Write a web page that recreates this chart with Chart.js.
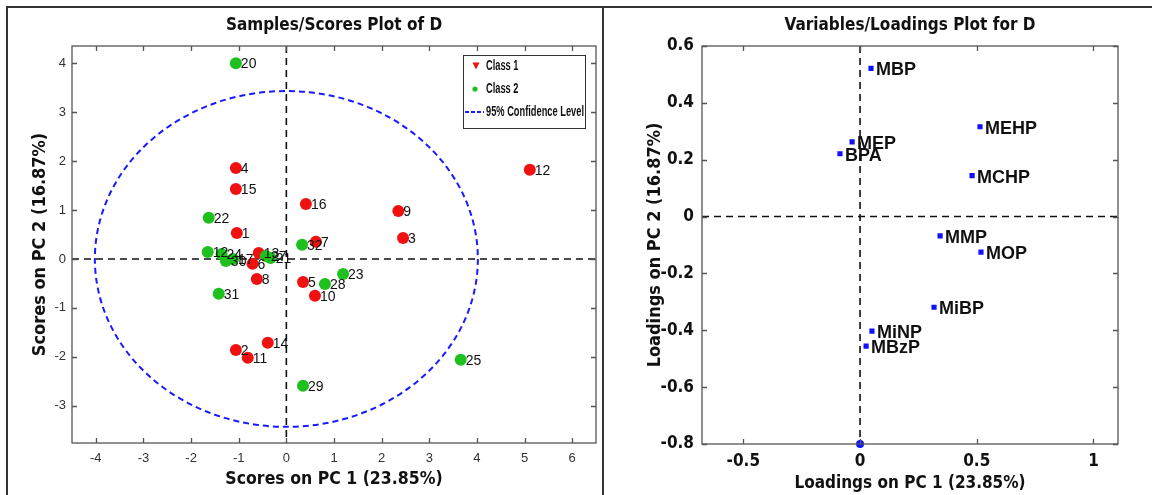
<!DOCTYPE html>
<html><head><meta charset="utf-8">
<script src="https://cdn.jsdelivr.net/npm/chart.js@4.4.0/dist/chart.umd.min.js"></script>
<style>
html,body{margin:0;padding:0;background:#fff;width:1152px;height:495px;overflow:hidden;}
#frame{position:absolute;left:6px;top:6px;width:1160px;height:500px;border-top:2px solid #333;border-left:2px solid #333;}
#sep{position:absolute;left:602px;top:6px;width:2px;height:500px;background:#333;}
#w1{position:absolute;left:8px;top:8px;width:594px;height:487px;}
#w2{position:absolute;left:604px;top:8px;width:548px;height:487px;}
</style></head>
<body>
<div id="frame"></div><div id="sep"></div>
<div id="w1"><canvas id="c1" width="594" height="487"></canvas></div>
<div id="w2"><canvas id="c2" width="548" height="487"></canvas></div>
<script>
// ---------- Scores plot data ----------
const class1Labels = ['1','2','3','4','5','6','7','8','9','10','11','12','13','14','15','16'];
const class1X = [-1.04,-1.06,2.45,-1.06,0.35,-0.71,0.62,-0.62,2.35,0.60,-0.81,5.11,-0.58,-0.39,-1.06,0.41];
const class1Y = [0.53,-1.86,0.43,1.86,-0.47,-0.10,0.35,-0.41,0.98,-0.75,-2.02,1.82,0.12,-1.71,1.43,1.12];

const class2Labels = ['20','22','12','24','30','17','27','21','31','32','28','23','25','29'];
const class2X = [-1.06,-1.63,-1.65,-1.36,-1.27,-1.12,-0.43,-0.33,-1.42,0.33,0.81,1.19,3.66,0.35];
const class2Y = [4.00,0.84,0.14,0.10,-0.04,0.00,0.06,0.02,-0.71,0.29,-0.51,-0.31,-2.06,-2.59];

const scoresXTicks = [-4,-3,-2,-1,0,1,2,3,4,5,6];
const scoresYTicks = [-3,-2,-1,0,1,2,3,4];
const scoresXRange = [-4.5, 6.5];
const scoresYRange = [-3.76, 4.35];
const confCenter = [0, 0];
const confRadii = [4.02, 3.43];

// ---------- Loadings plot data ----------
const loadLabels = ['MBP','MEHP','MEP','BPA','MCHP','MMP','MOP','MiBP','MiNP','MBzP'];
const loadX = [0.047,0.514,-0.034,-0.086,0.480,0.343,0.518,0.317,0.051,0.026];
const loadY = [0.521,0.316,0.263,0.221,0.144,-0.068,-0.125,-0.319,-0.403,-0.456];
const extraX = [0];
const extraY = [-0.8];

const loadXTicks = [-0.5,0,0.5,1];
const loadXTickLabels = ['-0.5','0','0.5','1'];
const loadYTicks = [-0.8,-0.6,-0.4,-0.2,0,0.2,0.4,0.6];
const loadYTickLabels = ['-0.8','-0.6','-0.4','-0.2','0','0.2','0.4','0.6'];
const loadXRange = [-0.677, 1.105];
const loadYRange = [-0.8, 0.6];

const NARROW = "'Liberation Sans Narrow','DejaVu Sans Condensed','Liberation Sans',Arial,sans-serif";
const SANS = "'Liberation Sans',Arial,sans-serif";

const pts = (X,Y)=>X.map((x,i)=>({x:x,y:Y[i]}));
const setTicks = arr => scale => { scale.ticks = arr.map(v=>({value:v})); };

const framePlugin = {
  id:'frame',
  beforeDatasetsDraw(chart){
    const {ctx, chartArea:ca, scales:{x,y}} = chart;
    const o = chart.options.plugins.frame || {};
    ctx.save();
    ctx.strokeStyle = '#111'; ctx.lineWidth = 1.6; ctx.setLineDash([7,5]);
    const x0 = x.getPixelForValue(0), y0 = y.getPixelForValue(0);
    ctx.beginPath(); ctx.moveTo(x0, ca.top); ctx.lineTo(x0, ca.bottom); ctx.stroke();
    ctx.beginPath(); ctx.moveTo(ca.left, y0); ctx.lineTo(ca.right, y0); ctx.stroke();
    if (o.ellipse) {
      const cx = x.getPixelForValue(confCenter[0]), cy = y.getPixelForValue(confCenter[1]);
      const rx = x.getPixelForValue(confCenter[0]+confRadii[0]) - cx;
      const ry = cy - y.getPixelForValue(confCenter[1]+confRadii[1]);
      ctx.strokeStyle = '#1a1aff'; ctx.lineWidth = 2; ctx.setLineDash([6,4]);
      ctx.beginPath(); ctx.ellipse(cx, cy, rx, ry, 0, 0, Math.PI*2); ctx.stroke();
    }
    ctx.restore();
  },
  afterDatasetsDraw(chart){
    const {ctx, chartArea:ca, scales:{x,y}} = chart;
    ctx.save();
    ctx.strokeStyle = '#555'; ctx.lineWidth = 1.3; ctx.setLineDash([]);
    ctx.strokeRect(ca.left, ca.top, ca.right-ca.left, ca.bottom-ca.top);
    const L = 5;
    ctx.beginPath();
    x.ticks.forEach(t=>{
      const px = Math.round(x.getPixelForValue(t.value))+0.5;
      ctx.moveTo(px, ca.bottom); ctx.lineTo(px, ca.bottom-L);
      ctx.moveTo(px, ca.top); ctx.lineTo(px, ca.top+L);
    });
    y.ticks.forEach(t=>{
      const py = Math.round(y.getPixelForValue(t.value))+0.5;
      ctx.moveTo(ca.left, py); ctx.lineTo(ca.left+L, py);
      ctx.moveTo(ca.right, py); ctx.lineTo(ca.right-L, py);
    });
    ctx.stroke();
    ctx.restore();
  }
};

const labelPlugin = {
  id:'ptlabels',
  afterDatasetsDraw(chart){
    const ctx = chart.ctx;
    ctx.save();
    chart.data.datasets.forEach((ds,i)=>{
      if (!ds.pointLabels) return;
      const meta = chart.getDatasetMeta(i);
      ctx.font = ds.labelFont; ctx.fillStyle = '#111';
      ctx.textAlign = 'left'; ctx.textBaseline = 'middle';
      meta.data.forEach((el,j)=>{
        ctx.fillText(ds.pointLabels[j], el.x + ds.labelDx, el.y + ds.labelDy);
      });
    });
    ctx.restore();
  }
};

const legendPlugin = {
  id:'boxlegend',
  afterDraw(chart){
    if (!chart.options.plugins.boxlegend) return;
    const {ctx, chartArea:ca} = chart;
    const bw = 122, bh = 73;
    const bx = ca.right - 11 - bw, by = ca.top + 9;
    ctx.save();
    ctx.fillStyle = '#fff'; ctx.fillRect(bx,by,bw,bh);
    ctx.strokeStyle = '#333'; ctx.lineWidth = 1; ctx.strokeRect(bx+0.5,by+0.5,bw,bh);
    ctx.fillStyle = '#f01010';
    const tx = bx+13, ty = by+11;
    ctx.beginPath(); ctx.moveTo(tx-3.5,ty-3.5); ctx.lineTo(tx+3.5,ty-3.5); ctx.lineTo(tx,ty+3.5); ctx.closePath(); ctx.fill();
    ctx.fillStyle = '#1ec01e';
    ctx.beginPath(); ctx.arc(bx+12, by+34, 2.6, 0, Math.PI*2); ctx.fill();
    ctx.strokeStyle = '#1a1aff'; ctx.lineWidth = 2; ctx.setLineDash([4,2]);
    ctx.beginPath(); ctx.moveTo(bx+2, by+57); ctx.lineTo(bx+21, by+57); ctx.stroke();
    ctx.setLineDash([]);
    ctx.fillStyle = '#111'; ctx.font = 'bold 14px ' + SANS;
    ctx.textAlign = 'left'; ctx.textBaseline = 'middle';
    const items = [['Class 1',by+11],['Class 2',by+34],['95% Confidence Level',by+57]];
    const sx = Math.min(1, 98 / ctx.measureText('95% Confidence Level').width);
    items.forEach(([t,yy])=>{
      ctx.save(); ctx.translate(bx+23, yy); ctx.scale(sx,1); ctx.fillText(t,0,0); ctx.restore();
    });
    ctx.restore();
  }
};

// ---------- Left chart ----------
new Chart(document.getElementById('c1'), {
  type:'scatter',
  data:{datasets:[
    {label:'Class 2', data:pts(class2X,class2Y), backgroundColor:'#1ec01e', borderWidth:0, pointRadius:6,
     pointLabels:class2Labels, labelFont:'14px '+SANS, labelDx:5, labelDy:1},
    {label:'Class 1', data:pts(class1X,class1Y), backgroundColor:'#f01010', borderWidth:0, pointRadius:6,
     pointLabels:class1Labels, labelFont:'14px '+SANS, labelDx:5, labelDy:1}
  ]},
  options:{
    responsive:false, animation:false, events:[],
    layout:{padding:{left:0,right:6,top:0,bottom:0}},
    plugins:{
      legend:{display:false}, tooltip:{enabled:false},
      frame:{ellipse:true}, boxlegend:true,
      title:{display:true, text:'Samples/Scores Plot of D', fullSize:false, color:'#111',
        font:{family:NARROW,size:17,weight:'bold'}, padding:{top:7.8,bottom:9.8}}
    },
    scales:{
      x:{type:'linear', min:scoresXRange[0], max:scoresXRange[1], afterBuildTicks:setTicks(scoresXTicks),
        afterFit:s=>{s.height=52;}, grid:{display:false,drawTicks:false}, border:{display:false},
        ticks:{color:'#333', font:{family:SANS,size:13}, padding:8, maxRotation:0, autoSkip:false},
        title:{display:true, text:'Scores on PC 1 (23.85%)', color:'#111', font:{family:NARROW,size:17.5,weight:'bold'}, padding:{top:0,bottom:5.5}}},
      y:{type:'linear', min:scoresYRange[0], max:scoresYRange[1], afterBuildTicks:setTicks(scoresYTicks),
        afterFit:s=>{s.width=64;}, grid:{display:false,drawTicks:false}, border:{display:false},
        ticks:{color:'#333', font:{family:SANS,size:13}, padding:6, autoSkip:false},
        title:{display:true, text:'Scores on PC 2 (16.87%)', color:'#111', font:{family:NARROW,size:18,weight:'bold'}, padding:{top:21.2,bottom:0}}}
    }
  },
  plugins:[framePlugin, labelPlugin, legendPlugin]
});

// ---------- Right chart ----------
new Chart(document.getElementById('c2'), {
  type:'scatter',
  data:{datasets:[
    {label:'Loadings', data:pts(loadX,loadY), pointStyle:'rect', pointRadius:2.6, borderColor:'#1010ff', backgroundColor:'#1010ff', borderWidth:1.5,
     pointLabels:loadLabels, labelFont:'bold 18px '+SANS, labelDx:5, labelDy:2},
    {label:'Origin', data:pts(extraX,extraY), pointRadius:4, backgroundColor:'#1010ff', borderWidth:0, clip:false}
  ]},
  options:{
    responsive:false, animation:false, events:[],
    layout:{padding:{left:0,right:34,top:0,bottom:0}},
    plugins:{
      legend:{display:false}, tooltip:{enabled:false},
      frame:{ellipse:false},
      title:{display:true, text:'Variables/Loadings Plot for D', fullSize:false, color:'#111',
        font:{family:NARROW,size:17,weight:'bold'}, padding:{top:7.8,bottom:9.8}}
    },
    scales:{
      x:{type:'linear', min:loadXRange[0], max:loadXRange[1], afterBuildTicks:setTicks(loadXTicks),
        afterFit:s=>{s.height=51;}, grid:{display:false,drawTicks:false}, border:{display:false},
        ticks:{color:'#111', font:{family:NARROW,size:17,weight:'bold'}, padding:7, maxRotation:0, autoSkip:false,
          callback:(v)=>loadXTickLabels[loadXTicks.indexOf(v)] ?? String(v)},
        title:{display:true, text:'Loadings on PC 1 (23.85%)', color:'#111', font:{family:NARROW,size:17,weight:'bold'}, padding:{top:0,bottom:0.8}}},
      y:{type:'linear', min:loadYRange[0], max:loadYRange[1], afterBuildTicks:setTicks(loadYTicks),
        afterFit:s=>{s.width=98;}, grid:{display:false,drawTicks:false}, border:{display:false},
        ticks:{color:'#111', font:{family:NARROW,size:17,weight:'bold'}, padding:8, autoSkip:false,
          callback:(v)=>loadYTickLabels[loadYTicks.indexOf(v)] ?? String(v)},
        title:{display:true, text:'Loadings on PC 2 (16.87%)', color:'#111', font:{family:NARROW,size:18,weight:'bold'}, padding:{top:40.2,bottom:0}}}
    }
  },
  plugins:[framePlugin, labelPlugin]
});
</script>
</body></html>
